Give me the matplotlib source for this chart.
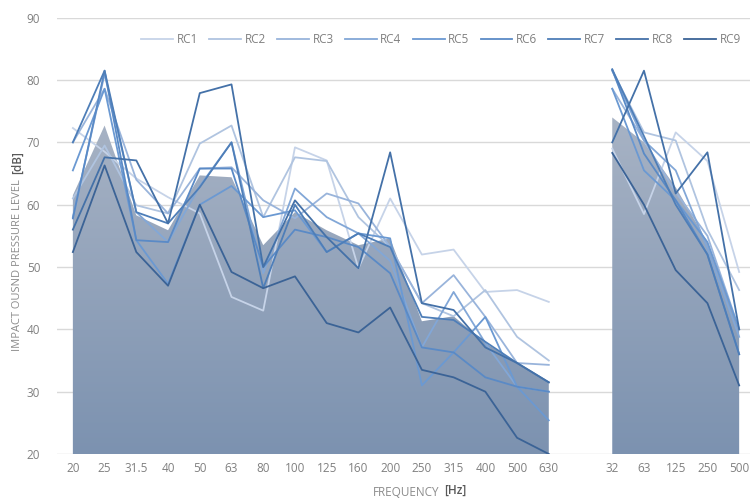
import numpy as np
import matplotlib
matplotlib.use("Agg")
import matplotlib.pyplot as plt
from matplotlib.colors import LinearSegmentedColormap

plt.rcParams["font.family"] = ["Open Sans", "DejaVu Sans"]

# third-octave bands (first block) and octave bands (second block)
bands = ["20", "25", "31.5", "40", "50", "63", "80", "100", "125", "160",
         "200", "250", "315", "400", "500", "630", "", "32", "63", "125", "250", "500"]

# reference curve shown as filled area
ref_third = [61.5, 72.7, 58.3, 55.9, 64.7, 64.4, 53.5, 58.8, 55.9, 53.5, 54.6, 41.3, 42.1, 37.8, 34.7, 31.5]
ref_oct = [74.0, 70.0, 62.8, 54.0, 40.0]

rc_third = {
    "RC1": [72.3, 68.5, 64.2, 61.2, 58.6, 45.2, 43.0, 69.2, 67.1, 49.8, 61.0, 52.0, 52.8, 46.0, 46.3, 44.4],
    "RC2": [61.0, 69.5, 59.9, 58.6, 69.8, 72.7, 58.0, 67.6, 67.0, 58.0, 53.2, 44.2, 42.1, 46.3, 38.8, 35.0],
    "RC3": [70.0, 78.6, 64.0, 58.6, 65.8, 66.0, 60.7, 57.8, 61.8, 60.2, 53.2, 44.2, 48.7, 42.0, 34.6, 34.3],
    "RC4": [58.0, 81.0, 58.8, 54.0, 63.0, 70.0, 49.0, 62.6, 58.0, 55.4, 51.0, 37.1, 46.0, 37.8, 30.8, 30.0],
    "RC5": [65.5, 78.6, 54.3, 47.3, 60.0, 63.0, 58.0, 59.1, 52.4, 55.4, 54.6, 31.0, 36.3, 42.0, 30.8, 25.4],
    "RC6": [57.8, 81.5, 54.3, 54.0, 65.8, 65.8, 50.0, 56.0, 54.8, 53.2, 49.0, 37.1, 36.3, 32.3, 30.8, 30.0],
    "RC7": [70.0, 81.5, 58.8, 57.0, 62.8, 70.0, 46.6, 60.0, 52.4, 55.4, 53.2, 42.0, 41.5, 38.0, 34.6, 31.5],
    "RC8": [56.0, 67.6, 67.1, 57.0, 77.9, 79.3, 50.0, 60.7, 54.8, 49.8, 68.4, 44.2, 43.1, 37.1, 34.6, 31.5],
    "RC9": [52.4, 66.3, 52.4, 47.0, 60.0, 49.2, 46.6, 48.5, 41.0, 39.5, 43.5, 33.5, 32.3, 30.0, 22.6, 20.0],
}
rc_oct = {
    "RC1": [69.0, 58.5, 71.6, 67.0, 49.2],
    "RC2": [81.5, 71.6, 70.3, 56.0, 46.3],
    "RC3": [78.6, 70.3, 62.0, 55.0, 40.0],
    "RC4": [81.5, 70.3, 65.5, 53.0, 38.8],
    "RC5": [78.6, 65.5, 60.7, 54.0, 40.0],
    "RC6": [81.7, 68.2, 60.7, 52.0, 36.0],
    "RC7": [81.7, 71.0, 60.0, 52.0, 36.0],
    "RC8": [70.0, 81.5, 61.8, 68.4, 40.0],
    "RC9": [68.3, 60.0, 49.5, 44.2, 31.0],
}

colors = ["#c6d3e8", "#b0c4e0", "#99b4db", "#82a7d7", "#6b99d2",
          "#5a8ac6", "#4e7eb8", "#4471a8", "#3b6396"]

x = np.arange(len(bands))
n3 = len(ref_third)

fig = plt.figure(figsize=(7.5, 5), dpi=100)
ax = fig.add_axes([0.076, 0.092, 0.9307, 0.8726])

# gradient-filled reference area, one piece per block
cmap = LinearSegmentedColormap.from_list("area", ["#7c92b0", "#a9b4c5"])
grad = np.linspace(0, 1, 256).reshape(-1, 1)
for xs, ys in [(x[:n3], ref_third), (x[n3 + 1:], ref_oct)]:
    poly = ax.fill_between(xs, 20, ys, facecolor="none", lw=0)
    im = ax.imshow(grad, cmap=cmap, origin="lower", aspect="auto",
                   extent=(-0.5, 21.5, 20, 76), zorder=1)
    im.set_clip_path(poly.get_paths()[0], transform=ax.transData)

for (name, vals), c in zip(rc_third.items(), colors):
    y = np.array(vals + [np.nan] + rc_oct[name])
    ax.plot(x, y, color=c, lw=1.3, label=name, zorder=3)

ax.set_xlim(-0.5, 21.5)
ax.set_ylim(20, 90)
ax.set_yticks(np.arange(20, 91, 10))
ax.set_xticks(x)
ax.set_xticklabels(bands)
ax.tick_params(length=0, labelsize=8.5, colors="#808080", pad=6)
ax.tick_params(axis="y", pad=12)
for s in ax.spines.values():
    s.set_visible(False)
ax.grid(axis="y", color="#d9d9d9", lw=1)
ax.set_axisbelow(True)

leg = ax.legend(ncol=9, loc="center right", bbox_to_anchor=(0.995, 0.949),
                frameon=False, fontsize=8.5, handlelength=2.7,
                handletextpad=0.3, columnspacing=0.95)
for t in leg.get_texts():
    t.set_color("#808080")

ylab = fig.text(0.023, 0.47, "IMPACT OUSND PRESSURE LEVEL", rotation=90, ha="center",
                va="center", fontsize=8, color="#8c8c8c")
ax.annotate("[dB]", xy=(0.5, 1), xycoords=ylab, xytext=(0, 4),
            textcoords="offset points", rotation=90, ha="center", va="bottom",
            fontsize=8.5, color="#595959", fontweight="semibold", annotation_clip=False)
xlab = fig.text(0.541, 0.016, "FREQUENCY", ha="center", va="center",
                fontsize=8.5, color="#8c8c8c")
ax.annotate("[Hz]", xy=(1, 0.5), xycoords=xlab, xytext=(4, 1),
            textcoords="offset points", ha="left", va="center",
            fontsize=8.5, color="#595959", fontweight="semibold", annotation_clip=False)

fig.savefig("out.png", dpi=100)
